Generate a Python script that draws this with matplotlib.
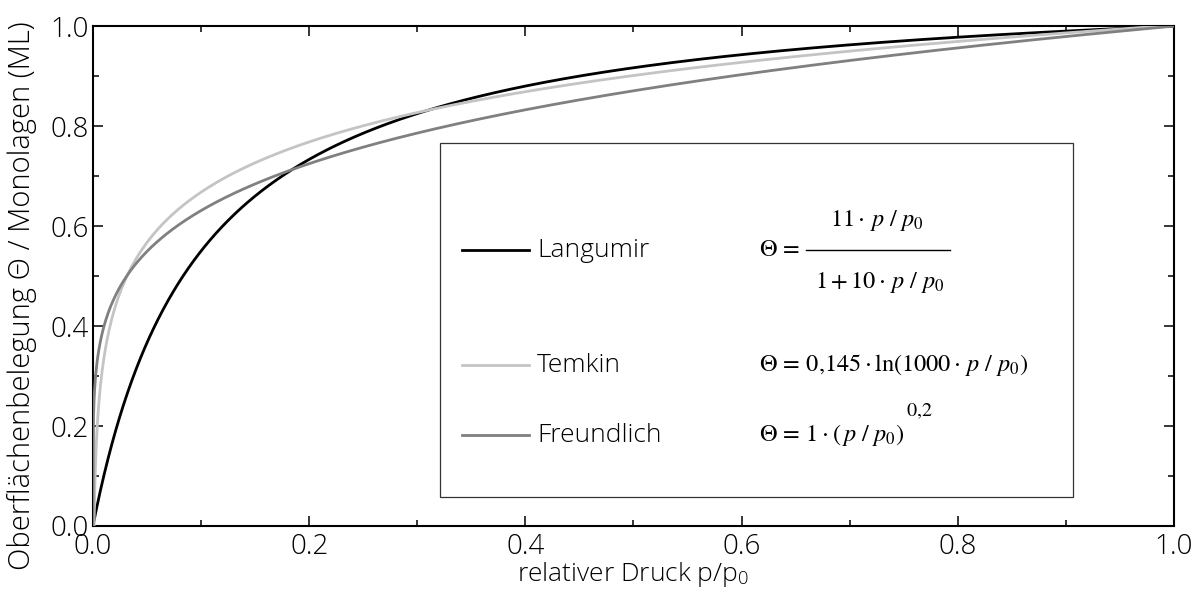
import numpy as np
import matplotlib
matplotlib.use("Agg")
import matplotlib.pyplot as plt
from matplotlib.patches import Rectangle

plt.rcParams['font.family'] = ['Open Sans', 'DejaVu Sans']
plt.rcParams['font.weight'] = 'light'
plt.rcParams['axes.labelweight'] = 'light'
plt.rcParams['mathtext.fontset'] = 'stix'

# Isotherm parameters (as given in the formulas)
langmuir_a, langmuir_b = 11.0, 10.0
temkin_k, temkin_c = 0.145, 1000.0
freundlich_k, freundlich_n = 1.0, 0.2

series_names = ["Langumir", "Temkin", "Freundlich"]
series_colors = ["#000000", "#c4c4c4", "#808080"]

x = np.linspace(0.0, 1.0, 2001)
x_pos = np.clip(x, 1e-12, None)
theta_langmuir = langmuir_a * x / (1 + langmuir_b * x)
theta_temkin = np.clip(temkin_k * np.log(temkin_c * x_pos), 0, None)
theta_freundlich = freundlich_k * x ** freundlich_n

fig = plt.figure(figsize=(12.01, 5.93), dpi=100)
ax = fig.add_axes([0.0774, 0.113, 0.9001, 0.843])

curves = [theta_langmuir, theta_temkin, theta_freundlich]
for y, c in zip(curves, series_colors):
    ax.plot(x, y, color=c, lw=2.0, solid_capstyle='butt', zorder=3)

ax.set_xlim(0, 1)
ax.set_ylim(0, 1)
major = np.arange(0, 1.01, 0.2)
ax.set_xticks(major)
ax.set_yticks(major)
ax.set_xticks(np.arange(0.1, 1.0, 0.2), minor=True)
ax.set_yticks(np.arange(0.1, 1.0, 0.2), minor=True)
ax.set_xticklabels([f"{v:.1f}" for v in major])
ax.set_yticklabels([f"{v:.1f}" for v in major])
ax.tick_params(which='both', direction='in', top=True, right=True, labelsize=20, width=1.1)
ax.tick_params(axis='x', which='major', length=7, pad=5)
ax.tick_params(axis='y', which='major', length=7, pad=3)
ax.tick_params(which='minor', length=4)
for s in ax.spines.values():
    s.set_linewidth(1.5)

ax.set_xlabel("relativer Druck p/p$_\\mathregular{0}$", fontsize=19, labelpad=-1)
ax.set_ylabel("Oberflächenbelegung Θ / Monolagen (ML)", fontsize=21)
ax.yaxis.set_label_coords(-0.052, 0.46)

# Legend box with formulas
ax.add_patch(Rectangle((0.321, 0.058), 0.5856, 0.708, transform=ax.transData,
                       fill=True, facecolor='white', edgecolor='#333333', lw=0.9, zorder=4))
legend_y = [0.552, 0.322, 0.182]
for yy, name, c in zip(legend_y, series_names, series_colors):
    ax.plot([0.3415, 0.4035], [yy, yy], color=c, lw=2.0, zorder=5)
    ax.text(0.411, yy, name, fontsize=19, va='center', ha='left', zorder=5)

fs = 17.5
# Langmuir: Θ = numerator / denominator
ax.text(0.616, legend_y[0], r"$\Theta\,=$", fontsize=fs, va='center', ha='left', zorder=5)
ax.text(0.725, 0.612, r"$11\cdot\,p\ /\ p_{0}$", fontsize=fs, va='center', ha='center', zorder=5)
ax.plot([0.660, 0.793], [legend_y[0], legend_y[0]], color='black', lw=1.0, zorder=5)
ax.text(0.728, 0.488, r"$1+10\cdot\,p\ /\ p_{0}$", fontsize=fs, va='center', ha='center', zorder=5)
# Temkin
ax.text(0.616, legend_y[1], r"$\Theta\,=\,0{,}145\cdot\mathrm{ln}(1000\cdot\,p\ /\ p_{0})$",
        fontsize=fs, va='center', ha='left', zorder=5)
# Freundlich
ax.text(0.616, legend_y[2], r"$\Theta\,=\,1\cdot(\,p\ /\ p_{0})$",
        fontsize=fs, va='center', ha='left', zorder=5)
ax.text(0.752, legend_y[2] + 0.048, r"$0{,}2$", fontsize=fs - 3, va='center', ha='left', zorder=5)

fig.savefig("out.png", dpi=100)
